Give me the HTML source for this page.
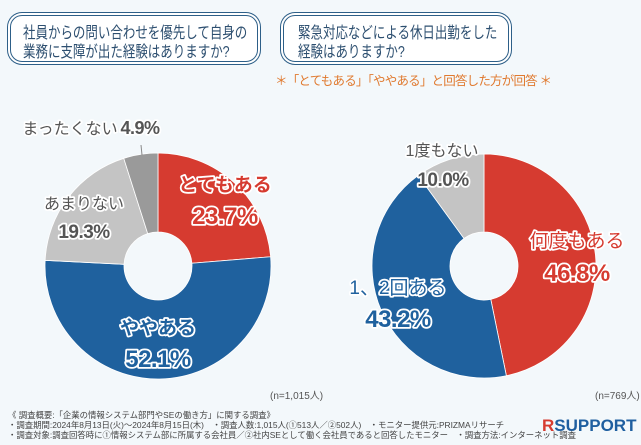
<!DOCTYPE html>
<html><head><meta charset="utf-8"><style>
body{margin:0;width:641px;height:445px;background:#f3f8fb;overflow:hidden;font-family:"Liberation Sans","Noto Sans CJK JP",sans-serif;position:relative}
.box{position:absolute;border:1.5px solid #2d5f88;border-radius:12px;box-shadow:0 0 0 2px #fff,0 0 0 3px #2d5f88;background:#fff;box-sizing:border-box}
.box div{position:absolute;left:12px;top:8px;color:#2d4f70;font-size:16px;line-height:19px;white-space:nowrap;transform:scaleX(0.78);transform-origin:0 0}
.ft{position:absolute;left:8px;font-size:8.4px;color:#444;white-space:nowrap}
</style></head><body>
<div class="box" style="left:10px;top:15px;width:248px;height:47px"><div>社員からの問い合わせを優先して自身の<br>業務に支障が出た経験はありますか?</div></div>
<div class="box" style="left:283px;top:15px;width:226px;height:47px"><div style="left:14px">緊急対応などによる休日出勤をした<br>経験はありますか?</div></div>
<div style="position:absolute;left:275px;top:70px;font-size:12.5px;color:#e07a30;white-space:nowrap;letter-spacing:-0.8px">＊「とてもある」「ややある」と回答した方が回答 ＊</div>
<svg width="641" height="445" style="position:absolute;left:0;top:0" id="s">
<g id="g"></g>
<g font-family="Liberation Sans,Noto Sans CJK JP,sans-serif" font-weight="bold" text-anchor="middle" stroke="#fff" stroke-width="3.5" paint-order="stroke" stroke-linejoin="round">
<text x="225" y="191" fill="#d63b30" font-size="19">とてもある</text>
<text x="225" y="224" fill="#d63b30" font-size="24" letter-spacing="-0.5">23.7%</text>
<text x="158" y="334" fill="#1f619e" font-size="19">ややある</text>
<text x="158" y="367" fill="#1f619e" font-size="24" letter-spacing="-0.5">52.1%</text>
<text x="84" y="209" fill="#555" font-size="16" font-weight="normal">あまりない</text>
<text x="84" y="238" fill="#555" font-size="19" letter-spacing="-0.5">19.3%</text>
<text x="70" y="134" fill="#555" font-size="16" font-weight="normal">まったくない</text>
<text x="140" y="134" fill="#555" font-size="18" letter-spacing="-0.5">4.9%</text>
<text x="442" y="156" fill="#555" font-size="16" font-weight="normal">1度もない</text>
<text x="443" y="186" fill="#555" font-size="19" letter-spacing="-0.5">10.0%</text>
<text x="577" y="247" fill="#d63b30" font-size="19" font-weight="normal">何度もある</text>
<text x="577" y="281" fill="#d63b30" font-size="24" letter-spacing="-0.5">46.8%</text>
<text x="398" y="294" fill="#1f619e" font-size="19" font-weight="normal">1、2回ある</text>
<text x="398" y="327" fill="#1f619e" font-size="24" letter-spacing="-0.5">43.2%</text>
</g>
<line x1="141" y1="145" x2="142" y2="155" stroke="#888"/>
<text x="270" y="399" font-size="10" fill="#555" font-family="Liberation Sans,Noto Sans CJK JP,sans-serif">(n=1,015人)</text>
<text x="595" y="399" font-size="10" fill="#555" font-family="Liberation Sans,Noto Sans CJK JP,sans-serif">(n=769人)</text>
<text x="542" y="431" font-size="17" font-weight="bold" fill="#1f5fa0" font-family="Liberation Sans,sans-serif"><tspan fill="#d63b30">R</tspan>SUPPORT</text>
</svg>
<div class="ft" style="top:409px">《 調査概要:「企業の情報システム部門やSEの働き方」に関する調査》</div>
<div class="ft" style="top:419px">・調査期間:2024年8月13日(火)～2024年8月15日(木)　・調査人数:1,015人(①513人／②502人)　・モニター提供元:PRIZMAリサーチ</div>
<div class="ft" style="top:429px">・調査対象:調査回答時に①情報システム部に所属する会社員／②社内SEとして働く会社員であると回答したモニター　・調査方法:インターネット調査</div>
<script>
function donut(cx,cy,R,r,data){var g=document.getElementById('g'),a=0,s='';
data.forEach(function(d){var a2=a+d[0]/100*2*Math.PI;
function p(rad,t){return [cx+rad*Math.sin(t),cy-rad*Math.cos(t)]}
var l=(a2-a)>Math.PI?1:0,o1=p(R,a),o2=p(R,a2),i1=p(r,a2),i2=p(r,a);
s+='<path d="M'+o1+' A'+R+' '+R+' 0 '+l+' 1 '+o2+' L'+i1+' A'+r+' '+r+' 0 '+l+' 0 '+i2+'Z" fill="'+d[1]+'" stroke="#fff" stroke-width="0.8"/>';a=a2;});
g.innerHTML+=s;}
donut(158,266,113,34,[[23.7,'#d63b30'],[52.1,'#1f619e'],[19.3,'#c4c4c4'],[4.9,'#9a9a9a']]);
donut(484,266,112,34,[[46.8,'#d63b30'],[43.2,'#1f619e'],[10,'#c4c4c4']]);
</script>
</body></html>
